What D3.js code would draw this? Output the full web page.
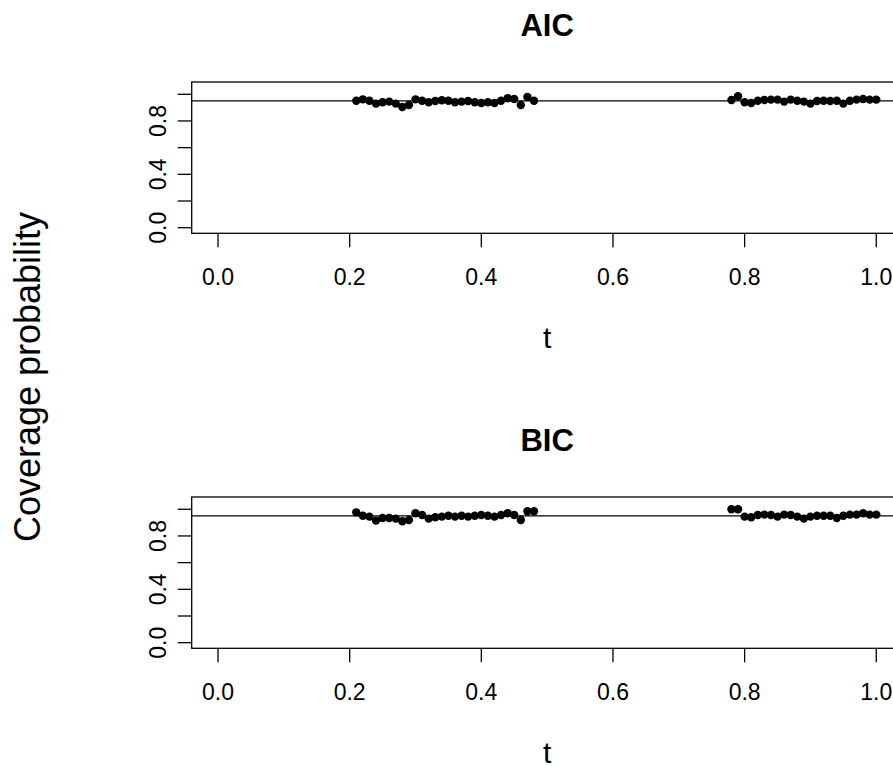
<!DOCTYPE html>
<html lang="en">
<head>
<meta charset="utf-8">
<title>Coverage probability</title>
<script src="https://cdn.jsdelivr.net/npm/d3@7"></script>
<style>
	body { margin: 0; background: #fff; }
	svg { display: block; font-family: "Liberation Sans", Arial, Helvetica, sans-serif; }
</style>
</head>
<body>
<svg id="chart" width="893" height="766"></svg>
<script>
// time points (two observed windows)
var tValues = [
	0.21, 0.22, 0.23, 0.24, 0.25, 0.26, 0.27, 0.28, 0.29, 0.30,
	0.31, 0.32, 0.33, 0.34, 0.35, 0.36, 0.37, 0.38, 0.39, 0.40,
	0.41, 0.42, 0.43, 0.44, 0.45, 0.46, 0.47, 0.48,
	0.78, 0.79, 0.80, 0.81, 0.82, 0.83, 0.84, 0.85, 0.86, 0.87,
	0.88, 0.89, 0.90, 0.91, 0.92, 0.93, 0.94, 0.95, 0.96, 0.97,
	0.98, 0.99, 1.00
]

// coverage probability
var aicCoverage = [
	0.952, 0.962, 0.952, 0.930, 0.940, 0.945, 0.930, 0.905, 0.920, 0.962,
	0.952, 0.940, 0.950, 0.955, 0.952, 0.940, 0.945, 0.950, 0.940, 0.935,
	0.940, 0.935, 0.952, 0.970, 0.965, 0.920, 0.980, 0.952,
	0.957, 0.985, 0.940, 0.935, 0.952, 0.957, 0.960, 0.960, 0.945, 0.960,
	0.952, 0.945, 0.930, 0.950, 0.952, 0.950, 0.952, 0.930, 0.952, 0.960,
	0.965, 0.960, 0.960
]
var bicCoverage = [
	0.977, 0.952, 0.945, 0.915, 0.935, 0.935, 0.930, 0.910, 0.920, 0.970,
	0.957, 0.930, 0.940, 0.945, 0.952, 0.945, 0.952, 0.945, 0.952, 0.957,
	0.952, 0.945, 0.957, 0.970, 0.957, 0.920, 0.985, 0.985,
	1.000, 1.000, 0.945, 0.940, 0.957, 0.960, 0.957, 0.945, 0.960, 0.957,
	0.945, 0.930, 0.945, 0.952, 0.952, 0.952, 0.935, 0.952, 0.960, 0.960,
	0.970, 0.960, 0.960
]

var panelTitles = ["AIC", "BIC"]
var xTicks = [0, 0.2, 0.4, 0.6, 0.8, 1.0]
var yTicks = [0, 0.2, 0.4, 0.6, 0.8, 1.0]
var yLabelTicks = [0, 0.4, 0.8]   // R drops the overlapping ones
var nominalLevel = 0.95
var xLim = [0, 1]
var yLim = [0, 1.05]

// layout
var plotLeft = 191.7, plotRight = 902.6
var plotTop = 82, plotBottom = 233.3
var panelStep = 415
var tickLen = 14

var fmt = d3.format(".1f")
function extend(lim) {
	var d = (lim[1] - lim[0]) * 0.04
	return [lim[0] - d, lim[1] + d]
}

var svg = d3.select("#chart")

var x = d3.scaleLinear().domain(extend(xLim)).range([plotLeft, plotRight])
var y = d3.scaleLinear().domain(extend(yLim)).range([plotBottom, plotTop])

var panels = [aicCoverage, bicCoverage]

panels.forEach(function(values, p) {
	var g = svg.append("g").attr("transform", "translate(0," + p * panelStep + ")")

	// title
	g.append("text")
		.attr("x", (plotLeft + plotRight) / 2)
		.attr("y", 36)
		.attr("text-anchor", "middle")
		.attr("font-weight", "bold")
		.attr("font-size", 31)
		.text(panelTitles[p])

	// box
	g.append("rect")
		.attr("x", plotLeft).attr("y", plotTop)
		.attr("width", plotRight - plotLeft).attr("height", plotBottom - plotTop)
		.attr("fill", "none").attr("stroke", "#000").attr("stroke-width", 1.3)

	// x axis
	var xa = g.append("g")
	xa.selectAll("line").data(xTicks).enter().append("line")
		.attr("x1", d => x(d)).attr("x2", d => x(d))
		.attr("y1", plotBottom).attr("y2", plotBottom + tickLen)
		.attr("stroke", "#000").attr("stroke-width", 1.3)
	xa.selectAll("text").data(xTicks).enter().append("text")
		.attr("x", d => x(d)).attr("y", 285)
		.attr("text-anchor", "middle")
		.attr("font-size", 23)
		.text(d => fmt(d))

	// y axis
	var ya = g.append("g")
	ya.selectAll("line").data(yTicks).enter().append("line")
		.attr("x1", plotLeft - tickLen).attr("x2", plotLeft)
		.attr("y1", d => y(d)).attr("y2", d => y(d))
		.attr("stroke", "#000").attr("stroke-width", 1.3)
	ya.selectAll("text").data(yLabelTicks).enter().append("text")
		.attr("transform", d => "translate(166," + y(d) + ") rotate(-90)")
		.attr("text-anchor", "middle")
		.attr("font-size", 23)
		.text(d => fmt(d))

	// nominal level
	g.append("line")
		.attr("x1", plotLeft).attr("x2", plotRight)
		.attr("y1", y(nominalLevel)).attr("y2", y(nominalLevel))
		.attr("stroke", "#000").attr("stroke-width", 1.3)

	// points
	g.append("g").selectAll("circle")
		.data(values).enter().append("circle")
		.attr("cx", (d, i) => x(tValues[i]))
		.attr("cy", d => y(d))
		.attr("r", 4.2)
		.attr("fill", "#000")

	// x label
	g.append("text")
		.attr("x", (plotLeft + plotRight) / 2)
		.attr("y", 348)
		.attr("text-anchor", "middle")
		.attr("font-size", 30)
		.text("t")
})

// outer y label
svg.append("text")
	.attr("transform", "translate(40,377) rotate(-90)")
	.attr("text-anchor", "middle")
	.attr("font-size", 36)
	.text("Coverage probability")
</script>
</body>
</html>
